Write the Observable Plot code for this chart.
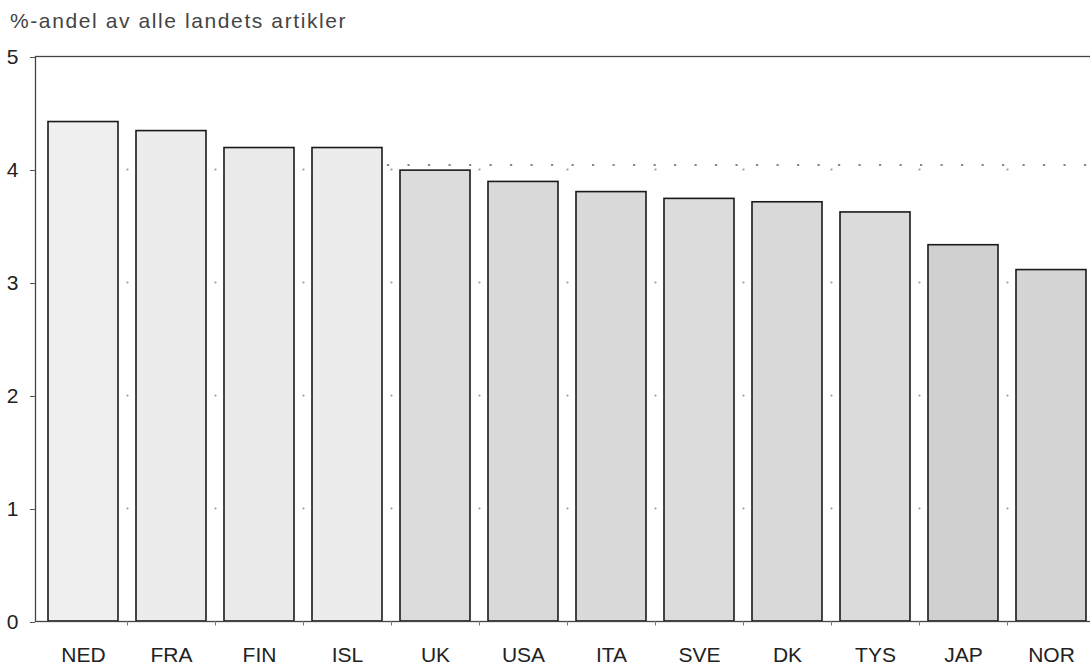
<!DOCTYPE html>
<html>
<head>
<meta charset="utf-8">
<script src="https://cdn.jsdelivr.net/npm/d3@7"></script>
<script src="https://cdn.jsdelivr.net/npm/@observablehq/plot@0.6"></script>
<style>
  html, body { margin: 0; padding: 0; background: #fff; overflow: hidden; }
  #wrap { position: relative; width: 1090px; height: 665px; }
  #title { position: absolute; left: 10px; top: 10px; font-family: "Liberation Sans", Arial, sans-serif; font-size: 21px; line-height: 21px; letter-spacing: 1.6px; color: #444; white-space: nowrap; }
</style>
</head>
<body>
<div id="wrap"><div id="title">%-andel av alle landets artikler</div></div>
<script>
const countries = ["NED", "FRA", "FIN", "ISL", "UK", "USA", "ITA", "SVE", "DK", "TYS", "JAP", "NOR"];
const shares = [4.42, 4.34, 4.19, 4.19, 3.99, 3.89, 3.80, 3.74, 3.71, 3.62, 3.33, 3.11];
const yTicks = [0, 1, 2, 3, 4, 5];
const referenceLevel = 4.04;
const refFrom = "ISL";
const refTo = "NOR";

const data = countries.map((c, i) => ({country: c, value: shares[i]}));
const fills = ["#efefef", "#ececec", "#eaeaea", "#ececec", "#dcdcdc", "#d9d9d9", "#dadada", "#dcdcdc", "#d9d9d9", "#dbdbdb", "#d0d0d0", "#d4d4d4"];
const gridDots = countries.slice(0, -1).flatMap(c => [1, 2, 3, 4].map(v => ({country: c, value: v})));

const chart = Plot.plot({
  width: 1090,
  height: 665,
  marginTop: 56,
  marginBottom: 44,
  marginLeft: 35,
  marginRight: -12,
  style: {fontFamily: "'Liberation Sans', Arial, sans-serif", fontSize: "21px", color: "#222", background: "white"},
  x: {domain: countries, range: [35, 1098], paddingInner: 0.208, paddingOuter: 0.117, label: null},
  y: {domain: [0, 5], label: null},
  color: {type: "ordinal", domain: countries, range: fills},
  marks: [
    Plot.dot(gridDots, {x: "country", y: "value", dx: 44, r: 1.1, fill: "#999", stroke: null}),
    Plot.ruleY([referenceLevel], {x1: () => refFrom, x2: () => refTo, insetLeft: 75, insetRight: -20, stroke: "#888", strokeWidth: 2.2, strokeDasharray: "2.2 18.3"}),
    Plot.barY(data, {x: "country", y: "value", fill: "country", stroke: "#1a1a1a", strokeWidth: 1.6}),
    Plot.frame({stroke: "#444", strokeWidth: 1.3}),
    Plot.ruleX(countries.slice(0, -1), {x: d => d, dx: 44, y1: 0, y2: -0.04, stroke: "#777"}),
    Plot.axisY({ticks: yTicks, tickSize: 5, tickPadding: 12, tickFormat: d => d, stroke: "#555", fill: "#222", dy: 1}),
    Plot.axisX({tickSize: 0, tickPadding: 26, fill: "#222"})
  ]
});
document.getElementById("wrap").appendChild(chart);
</script>
</body>
</html>
